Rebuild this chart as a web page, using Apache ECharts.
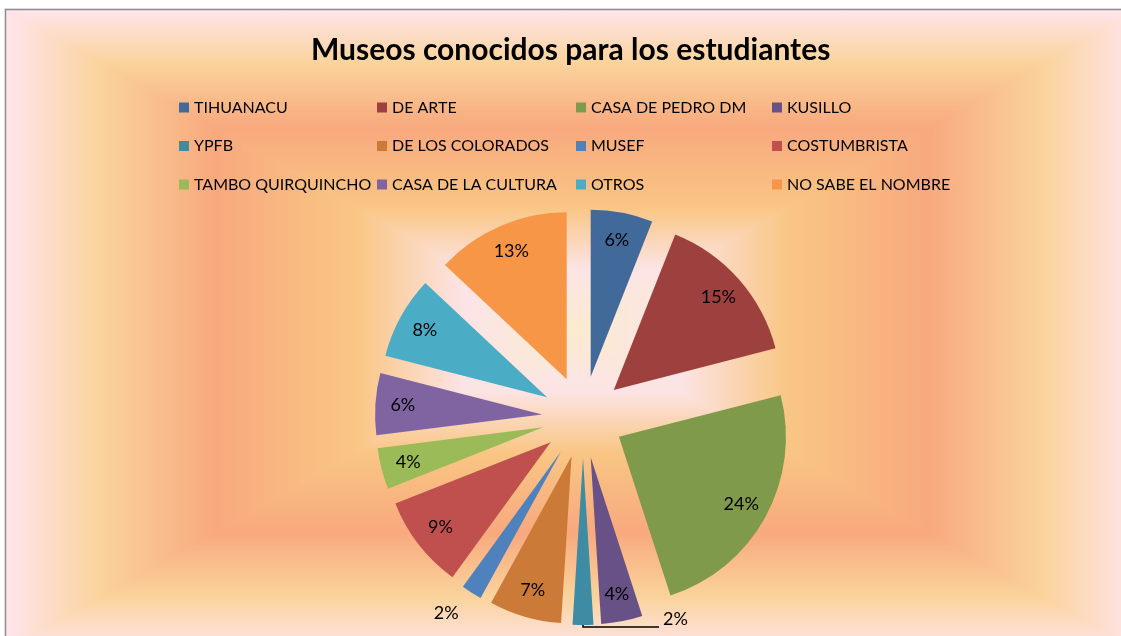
<!DOCTYPE html>
<html>
<head>
<meta charset="utf-8">
<script src="https://cdn.jsdelivr.net/npm/echarts@6/dist/echarts.min.js"></script>
<style>
html,body{margin:0;padding:0;background:#fff;}
#main{width:1121px;height:636px;}
</style>
</head>
<body>
<div id="main"></div>
<script>
const titleText = 'Museos conocidos para los estudiantes';
const categories = ['TIHUANACU','DE ARTE','CASA DE PEDRO DM','KUSILLO','YPFB','DE LOS COLORADOS','MUSEF','COSTUMBRISTA','TAMBO QUIRQUINCHO','CASA DE LA CULTURA','OTROS','NO SABE EL NOMBRE'];
const values = [6,15,24,4,2,7,2,9,4,6,8,13];
const colors = ['#416A9B','#9D403E','#7F9A4A','#685186','#3D8CA3','#CB7A37','#4F81BD','#C0504D','#9BBB59','#8064A2','#4BACC6','#F79646'];
const outsideLabels = ['YPFB','MUSEF'];

const chart = echarts.init(document.getElementById('main'));
const FONT = 'Lato';

// background: rectangular (path) gradient built from four triangles
const x0 = 5, y0 = 9, x1 = 1139, y1 = 651, cx = 572, cy = 330;
const stops = [
  {offset:0, color:'#FFE5EE'},
  {offset:0.17, color:'#FAD39B'},
  {offset:0.37, color:'#F8A97E'},
  {offset:0.62, color:'#F9C684'},
  {offset:0.81, color:'#FCE4E6'},
  {offset:1, color:'#FBEBCF'}
];
function grad(ax, ay, bx, by) {
  return {type:'linear', x:ax, y:ay, x2:bx, y2:by, colorStops:stops};
}
function tri(points, g) {
  return {type:'polygon', z:-10, silent:true, shape:{points:points}, style:{fill:g, stroke:g, lineWidth:1}};
}
const graphics = [
  tri([[x0,y0],[x1,y0],[cx,cy]], grad(0,0,0,1)),
  tri([[x0,y1],[x1,y1],[cx,cy]], grad(0,1,0,0)),
  tri([[x0,y0],[x0,y1],[cx,cy]], grad(0,0,1,0)),
  tri([[x1,y0],[x1,y1],[cx,cy]], grad(1,0,0,0)),
  {type:'rect', z:-5, silent:true, shape:{x:x0+0.5, y:y0+0.5, width:x1-x0, height:y1-y0}, style:{fill:'none', stroke:'#8E8E8E', lineWidth:1.5}}
];

// legends: 4 columns, 3 rows
const colLeft = [179, 377, 576, 772];
const legends = colLeft.map((left, c) => ({
  orient:'vertical', left:left, top:99, padding:0,
  itemWidth:10, itemHeight:10, itemGap:21.5, icon:'rect',
  selectedMode:false,
  data: categories.filter((_, i) => i % 4 === c),
  textStyle:{fontFamily:FONT, fontSize:16, lineHeight:17, color:'#000'}
}));

const CENTER = [583, 417];
const R = 167;
const OFFSET = 41;

const fmt = p => Math.round(p.percent) + '%';

const mainData = categories.map((name, i) => {
  const item = {name:name, value:values[i], selected:true, itemStyle:{color:colors[i]}};
  if (name === 'YPFB') {
    item.label = {
      show:true, position:'outside', distanceToLabelLine:4, lineHeight:18,
      formatter: p => fmt(p) + '\n{s| }',
      rich:{s:{fontSize:2, lineHeight:16}}
    };
    item.labelLine = {show:true, length:2, length2:76, lineStyle:{color:'#000', width:1.5}};
  } else if (name === 'MUSEF') {
    item.label = {show:true, position:'outside', distanceToLabelLine:0};
    item.labelLine = {show:false, length:24, length2:0};
  }
  return item;
});
const labelData = categories.map((name, i) => ({
  name:name, value:values[i], selected:true,
  label:{show: outsideLabels.indexOf(name) < 0}
}));

chart.setOption({
  backgroundColor:'#ffffff',
  animation:false,
  graphic: graphics,
  title:{
    text:titleText, left:311, top:35, padding:0,
    textStyle:{fontFamily:FONT, fontWeight:'bold', fontSize:30, color:'#000'}
  },
  legend: legends,
  series:[
    {
      type:'pie', name:'main', center:CENTER, radius:[0, R],
      startAngle:90, clockwise:true,
      selectedMode:'multiple', selectedOffset:OFFSET,
      avoidLabelOverlap:false, silent:true,
      label:{show:false, formatter:fmt, fontFamily:FONT, fontSize:18, color:'#000'},
      labelLine:{show:false},
      emphasis:{disabled:true},
      data: mainData, z:2
    },
    {
      type:'pie', name:'labels', center:CENTER, radius:[106, R],
      startAngle:90, clockwise:true,
      selectedMode:'multiple', selectedOffset:OFFSET,
      avoidLabelOverlap:false, silent:true, legendHoverLink:false,
      itemStyle:{color:'rgba(0,0,0,0)', borderWidth:0},
      label:{show:true, position:'inside', formatter:fmt, fontFamily:FONT, fontSize:18, color:'#000'},
      labelLine:{show:false},
      emphasis:{disabled:true},
      data: labelData, z:3
    }
  ]
});
</script>
</body>
</html>
